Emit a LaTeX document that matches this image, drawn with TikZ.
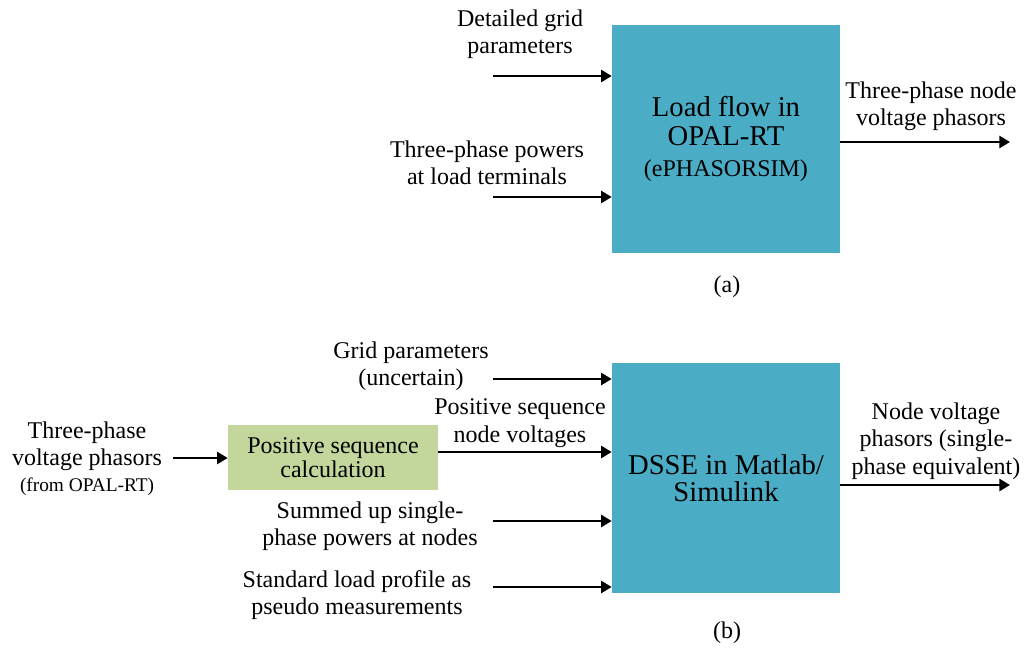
\documentclass[tikz,border=0pt]{standalone}
\usepackage{fontspec}
\setmainfont{Liberation Serif}
\usetikzlibrary{arrows.meta, positioning}
\definecolor{blockblue}{HTML}{4BACC6}
\definecolor{blockgreen}{HTML}{C3D69B}

\tikzset{
	block/.style={fill=blockblue, minimum width=228*0.75pt, minimum height=228*0.75pt, align=center, inner sep=0pt, font=\fontsize{21.5}{22}\selectfont},
	calc/.style={fill=blockgreen, minimum width=210*0.75pt, minimum height=65*0.75pt, align=center, inner sep=0pt, font=\fontsize{18}{17.5}\selectfont},
	lbl/.style={align=center, inner sep=0pt, font=\fontsize{18}{20.5}\selectfont},
	flow/.style={-{Triangle[length=8pt, width=9pt]}, line width=2pt},
}

\begin{document}
\begin{tikzpicture}[x=0.75pt, y=-0.75pt]
	\useasboundingbox (0,0) rectangle (1025,647);
	% (a) load flow
	\node[block] (lf) at (726,139) {Load flow in\\OPAL-RT\\[1pt] {\fontsize{18}{20}\selectfont(ePHASORSIM)}};
	\node[lbl] (gridA) at (520,34) {Detailed grid\\parameters};
	\node[lbl] (powA) at (487,163) {Three-phase powers\\at load terminals};
	\node[lbl] (outA) at (931,106) {Three-phase node\\voltage phasors};
	\node[lbl] (capA) at (727,287) {(a)};
	\coordinate (gridAs) at (493,76);
	\coordinate (powAs) at (493,197);
	\coordinate (outAe) at (1010,142);
	\draw[flow] (gridAs) -- (gridAs -| lf.west);
	\draw[flow] (powAs) -- (powAs -| lf.west);
	\draw[flow] (lf.east |- outAe) -- (outAe);
	% (b) state estimation
	\node[block, minimum height=230*0.75pt, font=\fontsize{21.5}{20.5}\selectfont] (dsse) at (726,478) {DSSE in Matlab/\\Simulink};
	\node[calc] (psc) at (333,457.5) {Positive sequence\\calculation};
	\node[lbl] (vin) at (87,446) {Three-phase\\voltage phasors};
	\node[lbl, font=\fontsize{14.5}{16}\selectfont, below=5pt of vin] (vsrc) {(from OPAL-RT)};
	\node[lbl] (gridB) at (411,366) {Grid parameters\\(uncertain)};
	\node[lbl] (posB) at (520,423) {Positive sequence\\node voltages};
	\node[lbl] (sumB) at (370,526) {Summed up single-\\phase powers at nodes};
	\node[lbl] (slpB) at (357,595) {Standard load profile as\\pseudo measurements};
	\node[lbl] (outB) at (936,441) {Node voltage\\phasors (single-\\phase equivalent)};
	\node[lbl] (capB) at (727,633) {(b)};
	\coordinate (vins) at (173,458);
	\coordinate (gridBs) at (493,379);
	\coordinate (sumBs) at (493,521);
	\coordinate (slpBs) at (493,587);
	\coordinate (outBe) at (1010,485);
	\draw[flow] (vins) -- (vins -| psc.west);
	\draw[flow] (gridBs) -- (gridBs -| dsse.west);
	\draw[flow] (psc.east |- 0,452) -- (dsse.west |- 0,452);
	\draw[flow] (sumBs) -- (sumBs -| dsse.west);
	\draw[flow] (slpBs) -- (slpBs -| dsse.west);
	\draw[flow] (dsse.east |- outBe) -- (outBe);
\end{tikzpicture}
\end{document}
